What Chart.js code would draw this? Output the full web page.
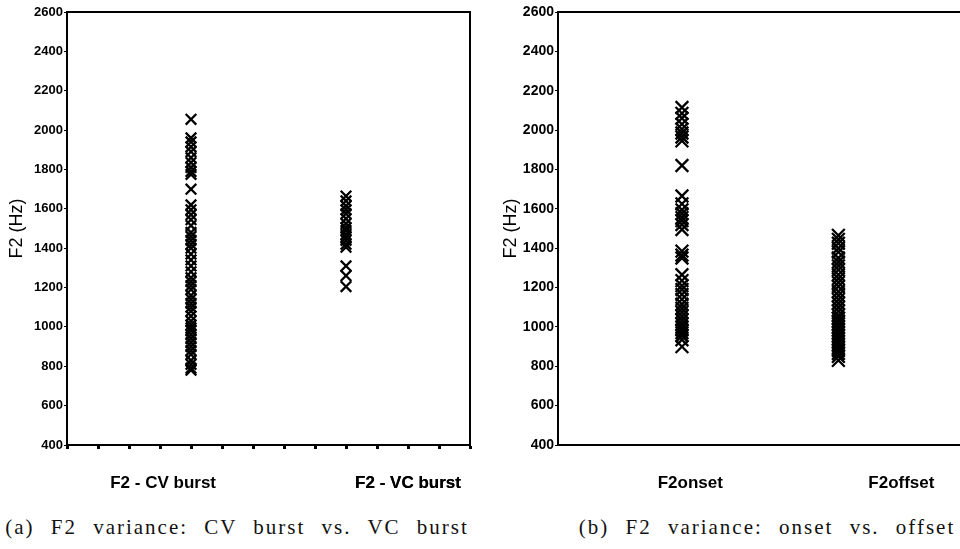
<!DOCTYPE html>
<html>
<head>
<meta charset="utf-8">
<script src="https://cdn.jsdelivr.net/npm/chart.js@4.4.1/dist/chart.umd.min.js"></script>
<style>
    html, body { margin: 0; padding: 0; background: #fff; overflow: hidden; }
    #wrap { position: relative; width: 960px; height: 549px; }
    .box { position: absolute; top: 0; width: 480px; height: 500px; }
    .cap {
        position: absolute; top: 515px; white-space: nowrap;
        font-family: "Liberation Serif", "DejaVu Serif", serif; font-size: 21px;
        letter-spacing: 2px; word-spacing: 9px; color: #111;
        transform: translateX(-50%);
    }
</style>
</head>
<body>
<div id="wrap">
    <div class="box" style="left:0"><canvas id="chartA"></canvas></div>
    <div class="box" style="left:480px"><canvas id="chartB"></canvas></div>
    <div class="cap" style="left:237px">(a) F2 variance: CV burst vs. VC burst</div>
    <div class="cap" style="left:767px">(b) F2 variance: onset vs. offset</div>
</div>
<script>
// F2 values (Hz)
const cvBurst = [2055, 1960, 1940, 1915, 1890, 1860, 1835, 1810, 1790, 1775, 1700,
    1620, 1595, 1570, 1545, 1515, 1480, 1460, 1440, 1420, 1400, 1370, 1340, 1310,
    1280, 1250, 1230, 1210, 1190, 1160, 1140, 1120, 1100, 1080, 1055, 1030, 1010,
    995, 980, 960, 940, 920, 900, 880, 860, 830, 810, 790, 780];
const vcBurst = [1665, 1640, 1615, 1595, 1575, 1550, 1525, 1505, 1490, 1470, 1455,
    1440, 1420, 1405, 1310, 1260, 1205];
const f2Onset = [2115, 2085, 2060, 2030, 2005, 1985, 1965, 1945, 1820, 1665, 1625,
    1595, 1575, 1555, 1540, 1520, 1495, 1385, 1365, 1350, 1265, 1235, 1210, 1190,
    1165, 1140, 1115, 1095, 1075, 1055, 1035, 1015, 1000, 985, 970, 955, 935, 900];
const f2Offset = [1465, 1445, 1425, 1400, 1380, 1350, 1330, 1310, 1290, 1265, 1245,
    1225, 1205, 1180, 1160, 1140, 1120, 1100, 1080, 1060, 1045, 1030, 1015, 1000,
    985, 970, 955, 940, 925, 910, 895, 880, 865, 850, 830];

const categoriesA = ['F2 - CV burst', 'F2 - VC burst'];
const categoriesB = ['F2onset', 'F2offset'];
const yTickValues = [400, 600, 800, 1000, 1200, 1400, 1600, 1800, 2000, 2200, 2400, 2600];

const FONT = '"Liberation Sans", Arial, sans-serif';

// draws the top (and right) edge of the plot box
const framePlugin = {
    id: 'frame',
    afterDraw(chart, args, opts) {
        const { ctx, chartArea: a } = chart;
        ctx.save();
        ctx.strokeStyle = '#000';
        ctx.lineWidth = 2;
        ctx.beginPath();
        ctx.moveTo(a.left, a.top);
        ctx.lineTo(a.right, a.top);
        if (opts.right) ctx.lineTo(a.right, a.bottom);
        ctx.stroke();
        ctx.restore();
    }
};

function makeChart(id, cfg) {
    const datasets = cfg.series.map((vals, i) => ({
        data: vals.map(v => ({ x: cfg.columns[i], y: v })),
        pointStyle: 'crossRot',
        pointRadius: cfg.radius,
        pointBorderWidth: 2.3,
        borderColor: '#000',
        backgroundColor: '#000'
    }));

    return new Chart(document.getElementById(id), {
        type: 'scatter',
        data: { datasets },
        plugins: [framePlugin],
        options: {
            responsive: true,
            maintainAspectRatio: false,
            animation: false,
            events: [],
            layout: {
                autoPadding: false,
                padding: { top: 12, right: cfg.padRight, left: 0, bottom: 0 }
            },
            plugins: {
                legend: { display: false },
                tooltip: { enabled: false },
                frame: { right: cfg.frameRight }
            },
            scales: {
                x: {
                    type: 'linear',
                    min: 0,
                    max: cfg.xMax,
                    afterBuildTicks: s => {
                        const vals = cfg.tickMarks.concat(cfg.labelPos).sort((a, b) => a - b);
                        s.ticks = vals.map(v => ({ value: v }));
                    },
                    afterFit: s => {
                        s.height = 55;
                        s.paddingLeft = 0;
                        s.paddingRight = 0;
                    },
                    ticks: {
                        autoSkip: false,
                        maxRotation: 0,
                        padding: 24,
                        color: '#000',
                        font: { family: FONT, size: cfg.xFont, weight: 'bold' },
                        callback: v => {
                            const k = cfg.labelPos.indexOf(v);
                            return k >= 0 ? cfg.categories[k] : '';
                        }
                    },
                    grid: {
                        drawOnChartArea: false,
                        drawTicks: true,
                        tickLength: 4,
                        tickWidth: 3,
                        tickColor: c => cfg.tickMarks.includes(c.tick.value) ? '#000' : 'rgba(0,0,0,0)'
                    },
                    border: { display: true, color: '#000', width: 2 }
                },
                y: {
                    min: 400,
                    max: 2600,
                    afterBuildTicks: s => { s.ticks = yTickValues.map(v => ({ value: v })); },
                    afterFit: s => {
                        s.width = cfg.yWidth;
                        s.paddingTop = 0;
                        s.paddingBottom = 0;
                    },
                    ticks: {
                        padding: 1,
                        color: '#000',
                        font: { family: FONT, size: cfg.yFont, weight: 'bold' },
                        callback: v => String(v)
                    },
                    grid: {
                        drawOnChartArea: false,
                        drawTicks: true,
                        tickLength: 3,
                        tickWidth: 1,
                        tickColor: '#000'
                    },
                    border: { display: true, color: '#000', width: 2 },
                    title: {
                        display: true,
                        text: 'F2 (Hz)',
                        color: '#000',
                        font: { family: FONT, size: 18 },
                        padding: { top: cfg.titlePad, bottom: 0 }
                    }
                }
            }
        }
    });
}

makeChart('chartA', {
    series: [cvBurst, vcBurst],
    categories: categoriesA,
    columns: [4, 9],
    labelPos: [3.1, 11],
    tickMarks: [0, 1, 2, 3, 4, 5, 6, 7, 8, 9, 10, 11, 12, 13],
    xMax: 13,
    padRight: 10,
    yWidth: 67,
    yFont: 13,
    xFont: 17,
    titlePad: 6,
    radius: 7.5,
    frameRight: true
});

makeChart('chartB', {
    series: [f2Onset, f2Offset],
    categories: categoriesB,
    columns: [3.7, 8.37],
    labelPos: [3.95, 10.25],
    tickMarks: [],
    xMax: 12,
    padRight: 0,
    yWidth: 78,
    yFont: 14,
    xFont: 17,
    titlePad: 20,
    radius: 9,
    frameRight: false
});
</script>
</body>
</html>
